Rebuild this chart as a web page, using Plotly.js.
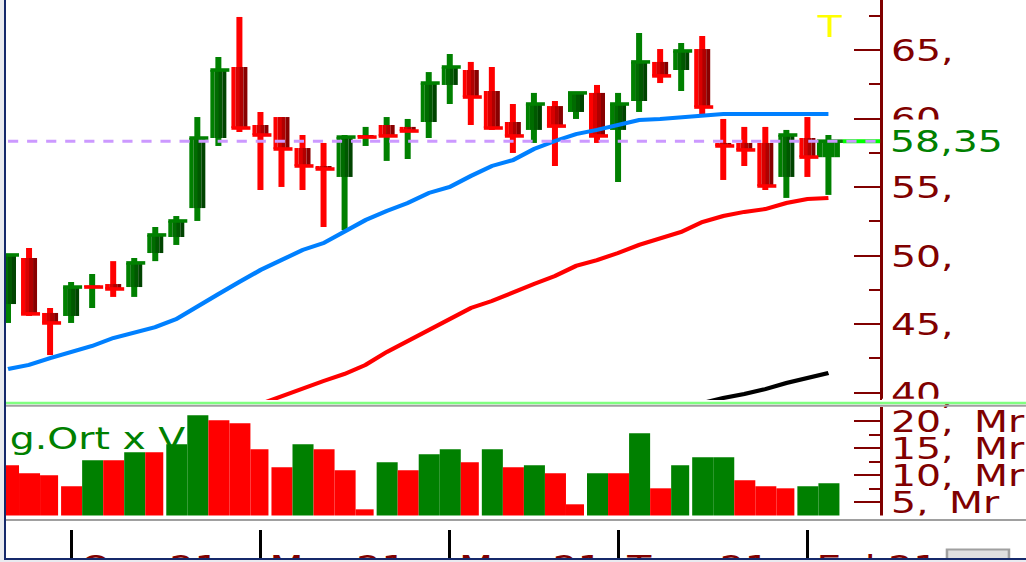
<!DOCTYPE html>
<html>
<head>
<meta charset="utf-8">
<script src="https://cdn.plot.ly/plotly-3.0.1.min.js"></script>
<style>
  html, body { margin: 0; padding: 0; background: #e9ebf0; }
  #frame { position: absolute; left: 0; top: 0; width: 1026px; height: 562px; background: #e9ebf0; overflow: hidden; }
  #edgeL { position: absolute; left: 4px; top: 0; width: 2px; height: 560px; background: #15296b; }
  #edgeB { position: absolute; left: 4px; top: 558px; width: 1022px; height: 2px; background: #15296b; }
  #wrap { position: absolute; left: 6px; top: 0; width: 803px; height: 558px; background: #fff;
          transform: scaleX(1.2702); transform-origin: 0 0; }
  #chart { width: 803px; height: 558px; }
</style>
</head>
<body>
<div id="frame">
  <div id="wrap"><div id="chart"></div></div>
  <div id="edgeL"></div>
  <div id="edgeB"></div>
</div>
<script>
// ---- data (weekly candles) ----
const weeks = ['2020-12-11','2020-12-18','2020-12-25','2021-01-01','2021-01-08','2021-01-15','2021-01-22','2021-01-29',
  '2021-02-05','2021-02-12','2021-02-19','2021-02-26','2021-03-05','2021-03-12','2021-03-19','2021-03-26',
  '2021-04-02','2021-04-09','2021-04-16','2021-04-23','2021-04-30','2021-05-07','2021-05-14','2021-05-21',
  '2021-05-28','2021-06-04','2021-06-11','2021-06-18','2021-06-25','2021-07-02','2021-07-09','2021-07-16',
  '2021-07-23','2021-07-30','2021-08-06','2021-08-13','2021-08-20','2021-08-27','2021-09-03','2021-09-10'];
const open  = [46.47,49.83,45.82,45.60,47.82,47.93,47.71,50.19,51.36,53.47,58.58,63.76,59.53,60.11,57.85,56.54,55.74,58.80,59.53,59.39,
               59.75,62.45,63.54,62.01,59.75,59.17,60.91,60.48,61.87,59.17,61.28,64.13,63.54,65.07,58.22,58.22,58.22,55.74,58.58,57.18];
const high  = [50.05,50.56,46.18,48.08,48.66,49.60,49.83,52.09,52.89,60.11,64.49,67.41,60.48,60.11,58.80,58.22,58.80,59.39,60.11,59.97,
               63.39,64.71,64.13,63.76,61.06,61.87,61.28,61.87,62.45,61.87,66.24,65.07,65.51,66.02,59.97,59.39,59.39,59.17,60.11,58.80];
const low   = [45.09,45.60,42.75,45.09,46.18,46.99,46.99,49.60,50.78,52.53,58.00,59.02,54.79,55.01,54.79,52.09,51.87,58.00,56.91,57.05,
               58.58,61.06,59.53,59.17,57.49,58.22,56.54,59.97,58.22,55.37,60.48,62.59,62.01,60.33,55.52,56.54,54.79,54.21,55.74,54.43];
const close = [50.05,45.75,45.09,47.71,47.71,47.57,49.47,51.51,52.53,58.58,63.54,59.31,58.80,57.78,56.54,56.32,58.65,58.65,58.73,59.09,
               62.59,63.76,61.57,59.31,58.73,61.06,59.45,61.87,58.73,61.06,64.13,63.11,64.93,60.84,58.00,57.71,55.08,58.80,57.19,58.35];
const volume = [11.85,10.37,10.00,7.96,12.78,12.78,14.26,14.26,15.74,21.11,20.19,19.63,14.81,11.48,15.74,14.81,10.93,3.70,12.41,10.93,
                13.89,14.81,12.41,14.81,11.48,11.85,10.37,4.63,10.37,10.37,17.78,7.59,11.85,13.33,13.33,9.07,7.96,7.59,7.96,8.52];
const volumeUp = [0,0,0,0,1,0,1,0,1,1,0,0,0,0,1,0,0,0,1,0,1,1,0,1,0,1,0,0,1,0,1,0,1,1,1,0,0,0,1,1];
const maFast = [41.73,42.03,42.53,42.97,43.41,43.99,44.36,44.79,45.38,46.33,47.20,48.08,48.95,49.68,50.41,50.92,51.73,52.60,53.26,53.84,
                54.57,55.01,55.81,56.54,56.97,57.78,58.36,58.87,59.17,59.53,59.89,59.97,60.11,60.26,60.33,60.33,60.33,60.33,60.33,60.33];
const maSlow = [null,null,null,null,null,null,null,null,null,null,null,null,39.18,39.76,40.27,40.86,41.37,42.03,42.97,43.77,
                44.51,45.31,46.18,46.69,47.35,47.93,48.51,49.25,49.68,50.19,50.78,51.29,51.73,52.45,52.89,53.19,53.40,53.84,54.13,54.21];
const maLong = [null,null,null,null,null,null,null,null,null,null,null,null,null,null,null,null,null,null,null,null,
                null,null,null,null,null,null,null,null,null,null,null,null,null,39.25,39.62,39.91,40.27,40.71,41.07,41.44];
const priceTicks = [40,45,50,55,60,65];
const priceTickText = ['40,','45,','50,','55,','60,','65,'];
const priceMinorTicks = [42.5,47.5,52.5,57.5,62.5,67.5];
const volTicks = [5,10,15,20];
const volTickText = ['5, \u2009Mr','10, \u2009Mr','15, \u2009Mr','20, \u2009Mr'];
const volMinorTicks = [7.5,12.5,17.5];
const monthTicks = ['2021-01-01','2021-03-05','2021-05-07','2021-07-02','2021-09-03'];
const monthLabels = ['Oca 21','Mar 21','May 21','Tem 21','Eyl 21'];
const lastPrice = close[close.length - 1];
const volumeTitle = 'g.Ort x V';

// ---- styling helpers ----
const DAY = 864e5;
const SLOT = 7 * DAY;
const pxMs = SLOT / 21.03;              // ms per screen pixel (one week slot = 21 px)
const n = weeks.length;
const FONT = 'DejaVu Sans';
const AXC = '#800000';
const redBands = ['#ff0000','#d80000','#b00000','#880000'];
const grnBands = ['#008000','#006c00','#005800','#004400'];

const up = close.map((c,i) => c >= open[i]);
const wickUp = close.map((c,i) => i === 0 ? c >= open[i] : c >= close[i-1]);
const bodyPx = weeks.map((w,i) => i === n-1 ? 23 : 16);

const traces = [];
// wicks
traces.push({
  type:'bar', x:weeks, base:low, y:high.map((h,i)=>h-low[i]),
  width: weeks.map(()=>6*pxMs),
  marker:{color: wickUp.map(u=>u?'#008000':'#ff0000'), line:{width:0}},
  xaxis:'x', yaxis:'y', hoverinfo:'skip'
});
// bodies (4 shaded bands)
for (let b = 0; b < 4; b++) {
  traces.push({
    type:'bar', x:weeks,
    base: open.map((o,i)=>Math.min(o,close[i])),
    y: open.map((o,i)=>Math.max(Math.abs(close[i]-o), 0.08)),
    offset: bodyPx.map(w => (-w/2 + b*w/4)*pxMs),
    width: bodyPx.map(w => (w/4)*pxMs),
    marker:{color: up.map((u,i)=> i===n-1 ? '#008000' : (u ? grnBands[b] : redBands[b])), line:{width:0}},
    xaxis:'x', yaxis:'y', hoverinfo:'skip'
  });
}
// close ticks
traces.push({
  type:'bar', x:weeks, base: close.map(c=>c-0.13), y: close.map(()=>0.26),
  offset: bodyPx.map(w => (-w/2)*pxMs), width: bodyPx.map(w => (w+3)*pxMs),
  marker:{color: up.map(u=>u?'#008000':'#ff0000'), line:{width:0}},
  xaxis:'x', yaxis:'y', hoverinfo:'skip'
});
// moving averages
traces.push({type:'scatter', mode:'lines', x:weeks, y:maFast, line:{color:'#0080ff', width:4}, xaxis:'x', yaxis:'y', hoverinfo:'skip'});
traces.push({type:'scatter', mode:'lines', x:weeks, y:maSlow, line:{color:'#ff0000', width:4}, xaxis:'x', yaxis:'y', hoverinfo:'skip'});
traces.push({type:'scatter', mode:'lines', x:weeks, y:maLong, line:{color:'#000000', width:4}, xaxis:'x', yaxis:'y', hoverinfo:'skip'});
// volume (every fifth column leaves a thin gap, as in the source rendering)
traces.push({
  type:'bar', x:weeks, y:volume,
  offset: weeks.map(()=> -SLOT/2 + 0.5*pxMs),
  width: weeks.map((w,i)=> SLOT - (i % 5 === 2 ? 3 : 0)*pxMs),
  marker:{color: volumeUp.map(u=>u?'#008000':'#ff0000'), line:{width:0}},
  xaxis:'x2', yaxis:'y2', hoverinfo:'skip'
});

const H = 558;
const py = p => 1 - p / H;               // page y -> paper y
const XD = 0.857;
const xRange = ['2020-12-10 08:00', '2021-09-27 04:48'];
const tickFont = {family:FONT, size:31, color:AXC};

const layout = {
  width: 803, height: 558,
  margin: {l:0, r:0, t:0, b:0},
  paper_bgcolor:'#ffffff', plot_bgcolor:'#ffffff',
  showlegend:false, barmode:'overlay',
  xaxis: {domain:[0,XD], type:'date', range:xRange, anchor:'y', showticklabels:false, ticks:'',
          showgrid:false, zeroline:false, showline:false, fixedrange:true},
  xaxis2: {domain:[0,XD], type:'date', range:xRange, anchor:'y2', matches:'x',
           tickmode:'array', tickvals:monthTicks, ticktext:monthLabels,
           ticks:'outside', ticklen:42, tickwidth:2.4, tickcolor:'#000000',
           ticklabelposition:'outside right', ticklabelstandoff:23, ticklabelshift:6,
           tickfont:tickFont, showgrid:false, zeroline:false, showline:false},
  yaxis: {domain:[py(400),1], range:[39.471,68.647], side:'right', anchor:'x',
          tickmode:'array', tickvals:priceTicks, ticktext:priceTickText,
          ticks:'inside', ticklen:20.5, tickwidth:2, tickcolor:AXC,
          minor:{tickmode:'array', tickvals:priceMinorTicks, ticks:'inside', ticklen:8.7, tickwidth:2, tickcolor:AXC, showgrid:false},
          showline:true, linecolor:AXC, linewidth:2.4, showgrid:false, zeroline:false,
          tickfont:tickFont, ticklabelstandoff:0, ticklabelshift:6.5},
  yaxis2: {domain:[py(516),py(407)], range:[2.463,22.648], side:'right', anchor:'x2',
          tickmode:'array', tickvals:volTicks, ticktext:volTickText,
          ticks:'inside', ticklen:20.5, tickwidth:2, tickcolor:AXC,
          minor:{tickmode:'array', tickvals:volMinorTicks, ticks:'inside', ticklen:8.7, tickwidth:2, tickcolor:AXC, showgrid:false},
          showline:true, linecolor:AXC, linewidth:2.4, showgrid:false, zeroline:false,
          tickfont:tickFont, ticklabelstandoff:0, ticklabelshift:6.5},
  shapes: [
    {type:'line', xref:'paper', yref:'y', x0:(843-6)/1020, x1:XD, y0:lastPrice, y1:lastPrice, line:{color:'#00ff00', width:4}, layer:'above'},
    {type:'line', xref:'paper', yref:'y', x0:0.002, x1:XD, y0:lastPrice, y1:lastPrice, line:{color:'#cc99ff', width:3, dash:'8px,7px'}, layer:'above'},
    {type:'rect', xref:'paper', yref:'paper', x0:(882-6)/1020, x1:1, y0:py(402.5), y1:py(398.8), fillcolor:'#ffffff', line:{width:0}, layer:'above'},
    {type:'line', xref:'paper', yref:'paper', x0:0, x1:1, y0:py(403), y1:py(403), line:{color:'#80ff80', width:2.5}, layer:'above'},
    {type:'line', xref:'paper', yref:'paper', x0:0, x1:1, y0:py(405.8), y1:py(405.8), line:{color:'#a0a0a0', width:2}, layer:'above'},
    {type:'rect', xref:'paper', yref:'paper', x0:0, x1:1, y0:py(530), y1:py(515.5), fillcolor:'#ffffff', line:{width:0}, layer:'above'},
    {type:'line', xref:'paper', yref:'paper', x0:0, x1:1, y0:py(520), y1:py(520), line:{color:'#a0a0a0', width:2}, layer:'above'},
    {type:'rect', xref:'paper', yref:'paper', x0:(947-6)/1020, x1:(1009-6)/1020, y0:py(559), y1:py(549.5), fillcolor:'#e0e0e0', line:{color:'#a0a0a0', width:2}, layer:'above'}
  ],
  annotations: [
    {xref:'paper', yref:'y', x:XD, y:lastPrice, xanchor:'left', yanchor:'middle', xshift:4,
     text:lastPrice.toFixed(2).replace('.', ','), showarrow:false, bgcolor:'#ffffff', borderpad:3,
     font:{family:FONT, size:31, color:'#008000'}},
    {xref:'paper', yref:'paper', x:(830-6)/1020, y:py(26), xanchor:'center', yanchor:'middle',
     text:'T', showarrow:false, font:{family:FONT, size:31, color:'#ffff00'}},
    {xref:'paper', yref:'paper', x:0.001, y:py(437.5), xanchor:'left', yanchor:'middle',
     text:volumeTitle, showarrow:false, font:{family:FONT, size:31, color:'#008000'}}
  ]
};

Plotly.newPlot('chart', traces, layout, {staticPlot:true, displayModeBar:false});
</script>
</body>
</html>
